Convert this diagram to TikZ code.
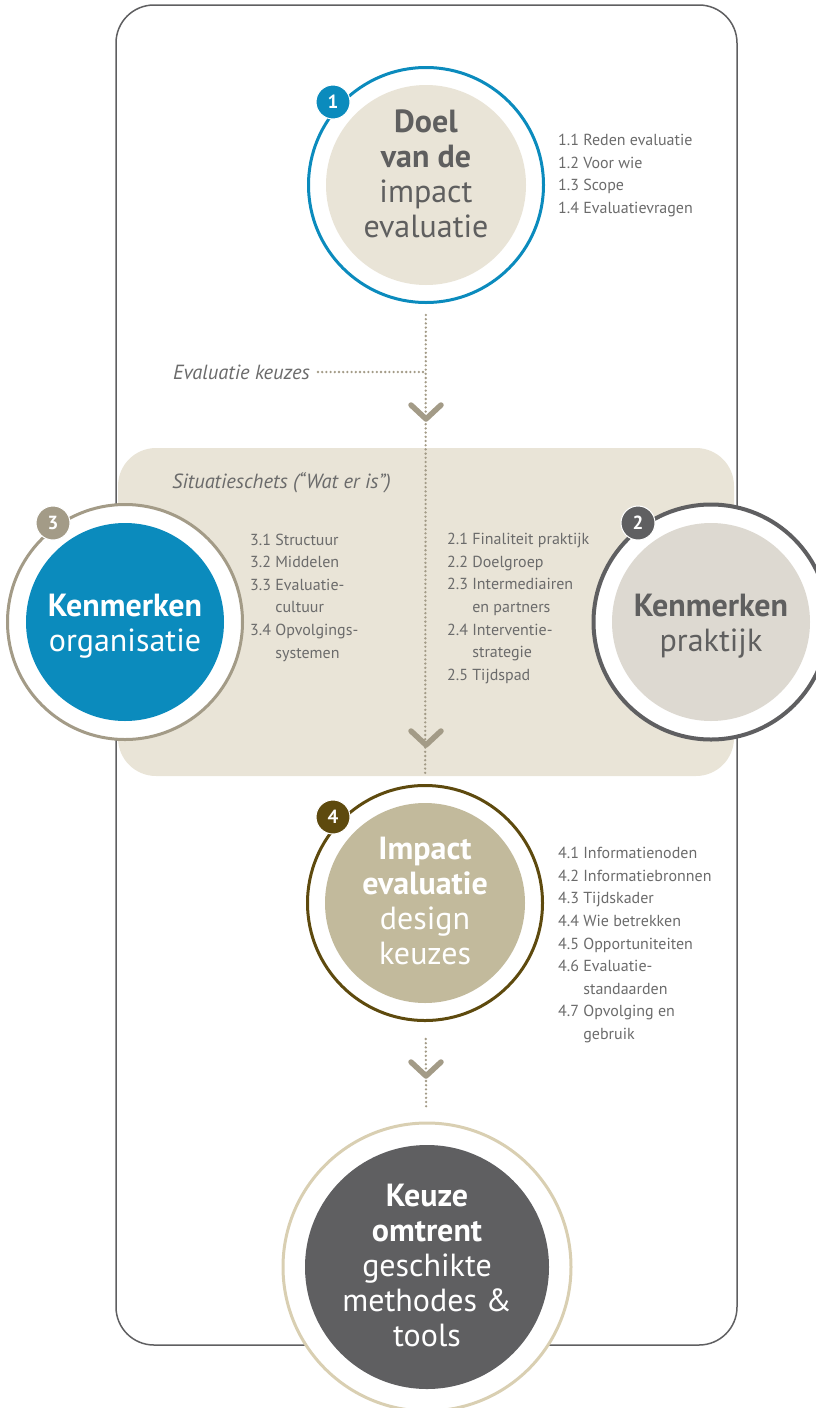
\documentclass[tikz,border=0pt]{standalone}
\usepackage{fontspec}
\setmainfont{PT Sans}
\usetikzlibrary{positioning}

\definecolor{blauw}{HTML}{0B8BBD}
\definecolor{beige}{HTML}{E9E4D7}
\definecolor{taupe}{HTML}{A39B87}
\definecolor{donkergrijs}{HTML}{5F5F61}
\definecolor{lichtgrijs}{HTML}{DDD9D1}
\definecolor{olijf}{HTML}{5E4A0E}
\definecolor{khaki}{HTML}{C2BA9C}
\definecolor{zand}{HTML}{D9CFB2}
\definecolor{tekstgrijs}{HTML}{5F5F5F}
\definecolor{lijstgrijs}{HTML}{6B6B6B}

\tikzset{
  ring/.style={circle, line width=3pt, fill=white, minimum size=235pt, inner sep=0pt},
  disktekst/.style={align=center, inner sep=0pt, font=\fontsize{32}{35}\selectfont},
  badge/.style={circle, draw=white, line width=1pt, minimum size=34pt, inner sep=0pt,
                text=white, font=\bfseries\fontsize{19}{19}\selectfont},
  lijst/.style={anchor=north west, align=left, inner sep=0pt, text=lijstgrijs,
                font=\fontsize{16}{22.6}\selectfont},
  kop/.style={inner sep=0pt, text=lijstgrijs, font=\itshape\fontsize{20.5}{20.5}\selectfont},
  dotline/.style={taupe, line width=2.6pt, line cap=round, dash pattern=on 0pt off 4.2pt},
  chevron/.style={taupe, line width=5.5pt, line cap=round, line join=round}
}

\begin{document}
\begin{tikzpicture}[x=1pt, y=-1pt]
  \useasboundingbox (0,0) rectangle (816,1408);

  % outer frame
  \draw[donkergrijs, line width=1.5pt, rounded corners=38pt] (116,5) rectangle (737,1345);
  % band
  \fill[beige, rounded corners=38pt] (118,448) rectangle (734,776);
  \node[kop, anchor=base west] (situatie) at (172,488) {Situatieschets (“Wat er is”)};

  % circles
  \node[ring, draw=blauw] (doel) at (426,185) {};
  \node[ring, draw=taupe] (organisatie) at (125,622) {};
  \node[ring, draw=donkergrijs, line width=4pt] (praktijk) at (711,622) {};
  \node[ring, draw=olijf] (design) at (425,903) {};
  \node[ring, draw=zand, minimum size=288pt] (keuze) at (427,1267) {};

  % dotted connectors
  \draw[dotline, shorten <=11pt, shorten >=11pt] (doel) -- (design);
  \draw[dotline, shorten <=17pt, shorten >=14pt] (design) -- (keuze);
  \node[kop, anchor=base east] (keuzes) at (310,379) {Evaluatie keuzes};
  \coordinate (keuzejoin) at (426,372);
  \draw[dotline, shorten <=8pt] (keuzes.east |- keuzejoin) -- (keuzejoin);

  % chevrons
  \foreach \y in {419,745,1076}
    \draw[chevron] (411,\y-14) -- (426,\y) -- (441,\y-14);

  % discs
  \fill[beige] (doel) circle (100pt);
  \fill[blauw] (organisatie) circle (99pt);
  \fill[lichtgrijs] (praktijk) circle (99pt);
  \fill[khaki] (design) circle (100pt);
  \fill[donkergrijs] (keuze) circle (122pt);

  % disc texts
  \node[disktekst, text=tekstgrijs, yshift=11.4pt] (doeltxt) at (doel)
    {\textbf{Doel}\\\textbf{van de}\\impact\\evaluatie};
  \node[disktekst, text=white, yshift=-4pt] (organisatietxt) at (organisatie)
    {\textbf{Kenmerken}\\organisatie};
  \node[disktekst, text=tekstgrijs, yshift=-4pt] (praktijktxt) at (praktijk)
    {\textbf{Kenmerken}\\praktijk};
  \node[disktekst, text=white, yshift=1.7pt] (designtxt) at (design)
    {\textbf{Impact}\\\textbf{evaluatie}\\design\\keuzes};
  \node[disktekst, text=white, yshift=2pt] (keuzetxt) at (keuze)
    {\textbf{Keuze}\\\textbf{omtrent}\\geschikte\\methodes \&\\tools};

  % badges
  \node[badge, fill=blauw] (b1) at (333,102) {1};
  \node[badge, fill=donkergrijs] (b2) at (638,523) {2};
  \node[badge, fill=taupe] (b3) at (53,523) {3};
  \node[badge, fill=olijf] (b4) at (333,817) {4};

  % lists
  \node[lijst] (lijst1) at (558,134)
    {1.1 Reden evaluatie\\1.2 Voor wie\\1.3 Scope\\1.4 Evaluatievragen};
  \node[lijst] (lijst3) at (250,533.5)
    {3.1 Structuur\\3.2 Middelen\\3.3 Evaluatie-\\\phantom{3.3 }cultuur\\
     3.4 Opvolgings-\\\phantom{3.4 }systemen};
  \node[lijst] (lijst2) at (447,533)
    {2.1 Finaliteit praktijk\\2.2 Doelgroep\\2.3 Intermediairen\\\phantom{2.3 }en partners\\
     2.4 Interventie-\\\phantom{2.4 }strategie\\2.5 Tijdspad};
  \node[lijst] (lijst4) at (558,847)
    {4.1 Informatienoden\\4.2 Informatiebronnen\\4.3 Tijdskader\\4.4 Wie betrekken\\
     4.5 Opportuniteiten\\4.6 Evaluatie-\\\phantom{4.6 }standaarden\\
     4.7 Opvolging en\\\phantom{4.7 }gebruik};
\end{tikzpicture}
\end{document}
